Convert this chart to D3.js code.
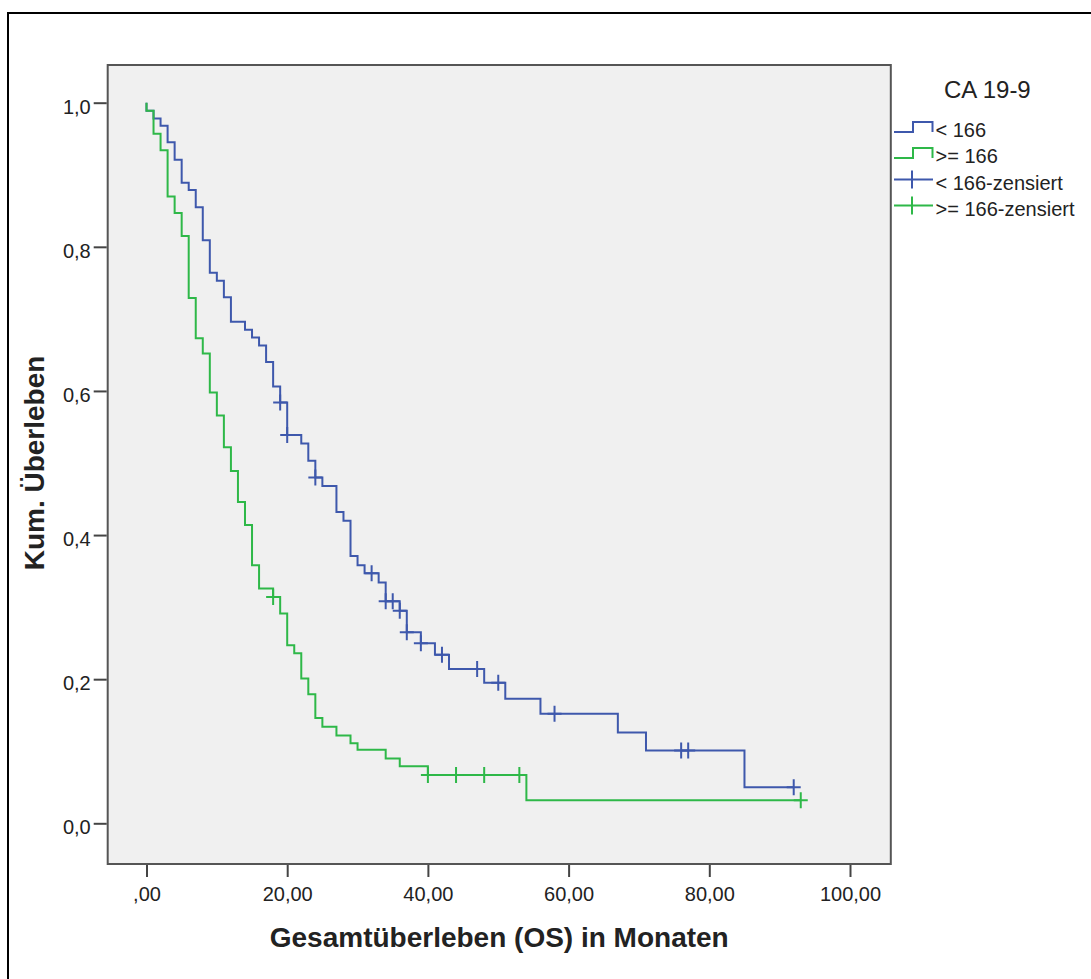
<!DOCTYPE html>
<html>
<head>
<meta charset="utf-8">
<script src="https://cdn.jsdelivr.net/npm/d3@7"></script>
<style>
  body { margin: 0; background: #fff; }
  text { font-family: "Liberation Sans", Arial, sans-serif; fill: #222; }
</style>
</head>
<body>
<div id="chart"></div>
<script>
// Kaplan-Meier steps (months, cumulative survival after the drop)
const blueTimes = [0,1,2,3,4,5,6,7,8,9,10,11,12,14,15,16,17,18,19,20,22,23,24,25,27,28,29,30,31,33,34,36,37,39,41,43,48,51,56,67,71,85];
const blueSurv = [0.989,0.978,0.968,0.945,0.921,0.889,0.879,0.855,0.809,0.764,0.753,0.730,0.696,0.685,0.674,0.663,0.640,0.606,0.584,0.539,0.527,0.503,0.480,0.468,0.432,0.420,0.371,0.358,0.347,0.334,0.308,0.295,0.265,0.250,0.234,0.214,0.195,0.173,0.152,0.126,0.101,0.050];
const blueCensored = [19,20,24,32,34,35,36,37,39,42,47,50,58,76,77,92];

const greenTimes = [0,1,2,3,4,5,6,7,8,9,10,11,12,13,14,15,16,18,19,20,21,22,23,24,25,27,29,30,34,36,40,54];
const greenSurv = [0.989,0.957,0.934,0.870,0.847,0.815,0.729,0.673,0.652,0.598,0.566,0.522,0.489,0.446,0.414,0.358,0.326,0.314,0.291,0.247,0.236,0.201,0.179,0.146,0.134,0.122,0.111,0.102,0.090,0.079,0.067,0.032];
const greenCensored = [18,40,44,48,53,93];

const xTicks = [0,20,40,60,80,100];
const xTickLabels = [",00","20,00","40,00","60,00","80,00","100,00"];
const yTicks = [0,0.2,0.4,0.6,0.8,1.0];
const yTickLabels = ["0,0","0,2","0,4","0,6","0,8","1,0"];

const legendTitle = "CA 19-9";
const legendLabels = ["< 166", ">= 166", "< 166-zensiert", ">= 166-zensiert"];

const blue = "#3e58ac", green = "#2eb848";

var svg = d3.select("#chart").append("svg").attr("width", 1091).attr("height", 979);

// outer frame of the exported chart
svg.append("rect").attr("x", 8).attr("y", 13).attr("width", 1100).attr("height", 1000)
  .attr("fill", "none").attr("stroke", "#000").attr("stroke-width", 2);

var x = d3.scaleLinear().domain([0, 100]).range([146.5, 850]);
var y = d3.scaleLinear().domain([0, 1]).range([823.3, 102.7]);

var plotLeft = 107.7, plotRight = 890.8, plotTop = 65, plotBottom = 864;

svg.append("rect").attr("x", plotLeft).attr("y", plotTop)
  .attr("width", plotRight - plotLeft).attr("height", plotBottom - plotTop)
  .attr("fill", "#f0f0f0").attr("stroke", "#555").attr("stroke-width", 2);

// axes
var xAxis = d3.axisBottom(x).tickValues(xTicks).tickSize(12).tickPadding(10)
  .tickFormat((d, i) => xTickLabels[i]);
var gx = svg.append("g").attr("transform", "translate(0," + (plotBottom + 1) + ")").call(xAxis);
gx.select(".domain").remove();
gx.selectAll("line").attr("stroke", "#444").attr("stroke-width", 2);
gx.selectAll("text").attr("font-size", "20px").attr("fill", "#222")
  .attr("font-family", "Liberation Sans, Arial, sans-serif");

var yAxis = d3.axisLeft(y).tickValues(yTicks).tickSize(13).tickPadding(3)
  .tickFormat((d, i) => yTickLabels[i]);
var gy = svg.append("g").attr("transform", "translate(" + (plotLeft - 1) + ",0)").call(yAxis);
gy.select(".domain").remove();
gy.selectAll("line").attr("stroke", "#444").attr("stroke-width", 2);
gy.selectAll("text").attr("font-size", "20px").attr("fill", "#222").attr("dy", "0.52em")
  .attr("font-family", "Liberation Sans, Arial, sans-serif");

// axis titles
svg.append("text").attr("x", (plotLeft + plotRight) / 2).attr("y", 947)
  .attr("text-anchor", "middle").attr("font-size", "28px").attr("font-weight", "bold")
  .text("Gesamtüberleben (OS) in Monaten");

svg.append("text").attr("transform", "translate(44,463) rotate(-90)")
  .attr("text-anchor", "middle").attr("font-size", "28px").attr("font-weight", "bold")
  .text("Kum. Überleben");

// survival curves
function stepPoints(times, surv, censored) {
  var pts = [[0, 1]];
  times.forEach((t, i) => pts.push([t, surv[i]]));
  var end = d3.max(censored.concat(times));
  pts.push([end, surv[surv.length - 1]]);
  return pts;
}
function survAt(times, surv, t) {
  var s = 1;
  times.forEach((tt, i) => { if (tt <= t) s = surv[i]; });
  return s;
}

var line = d3.line().x(d => x(d[0])).y(d => y(d[1])).curve(d3.curveStepAfter);

var groups = [
  { times: blueTimes, surv: blueSurv, cens: blueCensored, color: blue },
  { times: greenTimes, surv: greenSurv, cens: greenCensored, color: green }
];

groups.forEach(g => {
  svg.append("path").datum(stepPoints(g.times, g.surv, g.cens))
    .attr("d", line).attr("fill", "none").attr("stroke", g.color).attr("stroke-width", 2);

  svg.selectAll(null).data(g.cens).enter().append("path")
    .attr("d", c => {
      var cx = x(c), cy = y(survAt(g.times, g.surv, c));
      return "M" + (cx - 7) + "," + cy + "H" + (cx + 7) + "M" + cx + "," + (cy - 8) + "V" + (cy + 8);
    })
    .attr("fill", "none").attr("stroke", g.color).attr("stroke-width", 2);
});

// legend
svg.append("text").attr("x", 944).attr("y", 98).attr("font-size", "24px").text(legendTitle);

var legendColors = [blue, green, blue, green];
var legendBase = [137, 163, 190, 216];
legendLabels.forEach((lab, i) => {
  var by = legendBase[i];
  var lg = svg.append("g");
  if (i < 2) {
    var lo = by - 5, hi = by - 15;
    lg.append("path").attr("d", "M894," + lo + "H913V" + hi + "H932.5V" + lo)
      .attr("fill", "none").attr("stroke", legendColors[i]).attr("stroke-width", 2);
  } else {
    var cy = by - 10.5;
    lg.append("path").attr("d", "M894," + cy + "H933M912," + (cy - 9) + "V" + (cy + 9))
      .attr("fill", "none").attr("stroke", legendColors[i]).attr("stroke-width", 2);
  }
  lg.append("text").attr("x", 935.5).attr("y", by).attr("font-size", "20px").text(lab);
});
</script>
</body>
</html>
